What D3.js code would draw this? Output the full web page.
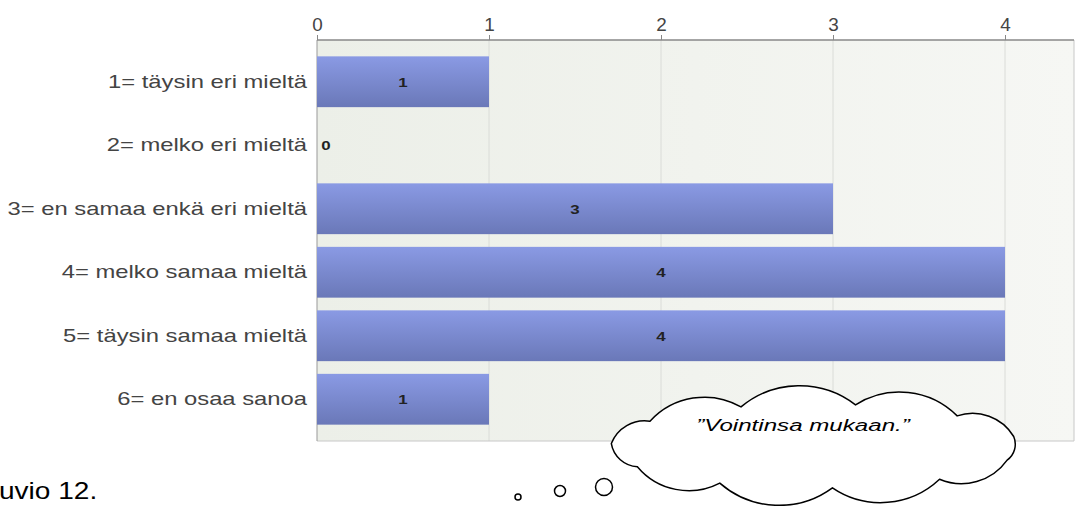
<!DOCTYPE html>
<html><head><meta charset="utf-8">
<script src="https://cdn.jsdelivr.net/npm/d3@7/dist/d3.min.js"></script>
<style>html,body{margin:0;padding:0;background:#fff;overflow:hidden}</style>
</head><body>
<svg id="c" width="1076" height="506"></svg>
<script>
const categories = ["1= täysin eri mieltä","2= melko eri mieltä","3= en samaa enkä eri mieltä","4= melko samaa mieltä","5= täysin samaa mieltä","6= en osaa sanoa"];
const values = [1,0,3,4,4,1];
const xTicks = [0,1,2,3,4];
const caption = "uvio 12.";
const quote = "\u201DVointinsa mukaan.\u201D";

(function(){
const FONT = "Liberation Sans, Arial, sans-serif";
const svg = d3.select("#c");
const pL = 317, pR = 1074, pT = 40, pB = 441;
const x = d3.scaleLinear().domain([0,4.4]).range([pL, pL + 4.4*172]);
const y = d3.scaleBand().domain(categories).range([50, 431]).paddingInner(0.2).paddingOuter(0.1);

const defs = svg.append("defs");
const bg = defs.append("linearGradient").attr("id","bg").attr("x1","0").attr("x2","1").attr("y1","0").attr("y2","0");
bg.append("stop").attr("offset","0").attr("stop-color","#ecefe8");
bg.append("stop").attr("offset","1").attr("stop-color","#f6f7f4");
const bar = defs.append("linearGradient").attr("id","bar").attr("x1","0").attr("x2","0").attr("y1","0").attr("y2","1");
bar.append("stop").attr("offset","0").attr("stop-color","#8a9ae4");
bar.append("stop").attr("offset","1").attr("stop-color","#6a78b8");

svg.append("rect").attr("x",pL).attr("y",pT).attr("width",pR-pL).attr("height",pB-pT).attr("fill","url(#bg)");

svg.append("g").selectAll("line").data(xTicks.slice(1)).join("line")
  .attr("x1",d=>x(d)).attr("x2",d=>x(d)).attr("y1",pT).attr("y2",pB)
  .attr("stroke","#dadcd8").attr("stroke-width",1);

svg.append("line").attr("x1",pR).attr("x2",pR).attr("y1",pT).attr("y2",pB).attr("stroke","#c8c8c8");
svg.append("line").attr("x1",pL).attr("x2",pR).attr("y1",pB).attr("y2",pB).attr("stroke","#c8c8c8");
svg.append("line").attr("x1",pL).attr("x2",pL).attr("y1",pT).attr("y2",pB).attr("stroke","#999");

const ax = svg.append("g").attr("transform",`translate(0,${pT})`)
  .call(d3.axisTop(x).tickValues(xTicks).tickFormat(d3.format("d")).tickSize(5).tickSizeOuter(0).tickPadding(8));
ax.select(".domain").attr("stroke","#888").attr("stroke-width",1.5).attr("d",`M${pL},0H${pR}`);
ax.selectAll(".tick line").attr("stroke","#888");
ax.selectAll(".tick text").attr("font-family",FONT).attr("font-size",18).attr("fill","#444")
  .attr("transform","scale(1.05,1)").attr("y",-9).attr("x",0);

svg.append("g").selectAll("rect").data(values).join("rect")
  .attr("x",x(0)).attr("y",(d,i)=>y(categories[i])).attr("width",d=>x(d)-x(0)).attr("height",y.bandwidth())
  .attr("fill","url(#bar)");

svg.append("g").selectAll("text").data(values).join("text")
  .attr("transform",(d,i)=>`translate(${d===0 ? x(0)+9 : (x(0)+x(d))/2},${y(categories[i])+y.bandwidth()/2+5}) scale(1.3,1)`)
  .attr("text-anchor","middle").attr("font-family",FONT)
  .attr("font-size",13).attr("font-weight","bold").attr("fill","#222").text(d=>d);

svg.append("g").selectAll("text").data(categories).join("text")
  .attr("transform",d=>`translate(307,${y(d)+y.bandwidth()/2+6}) scale(1.36,1)`)
  .attr("text-anchor","end").attr("font-family",FONT)
  .attr("font-size",17.5).attr("fill","#444").text(d=>d);

svg.append("text").attr("transform","translate(-1,499) scale(1.22,1)").attr("font-family",FONT)
  .attr("font-size",23).attr("fill","#000").text(caption);

const cx = 815, cy = 446, rx = 204, ry = 42, n = 11;
const pts = d3.range(n).map(i=>{const a = -Math.PI/2 + i*2*Math.PI/n + 0.2; return [cx+rx*Math.cos(a), cy+ry*Math.sin(a)];});
let p = `M${pts[0][0]},${pts[0][1]}`;
for (let i=1;i<=n;i++){
  const a = pts[i-1], b = pts[i % n];
  const chord = Math.hypot(b[0]-a[0], b[1]-a[1]);
  p += `A${chord*0.8},${chord*0.8} 0 0 1 ${b[0]},${b[1]}`;
}
p += "Z";
svg.append("path").attr("d",p).attr("fill","#fff").attr("stroke","#000").attr("stroke-width",1.5);
[[604,487,8.5],[560,491,5.5],[518,497,3]].forEach(c=>{
  svg.append("circle").attr("cx",c[0]).attr("cy",c[1]).attr("r",c[2]).attr("fill","#fff").attr("stroke","#000").attr("stroke-width",1.5);
});
svg.append("text").attr("transform","translate(803,431) scale(1.42,1)").attr("text-anchor","middle")
  .attr("font-family",FONT).attr("font-style","italic")
  .attr("font-size",17).attr("fill","#000").text(quote);
})();
</script>
</body></html>
